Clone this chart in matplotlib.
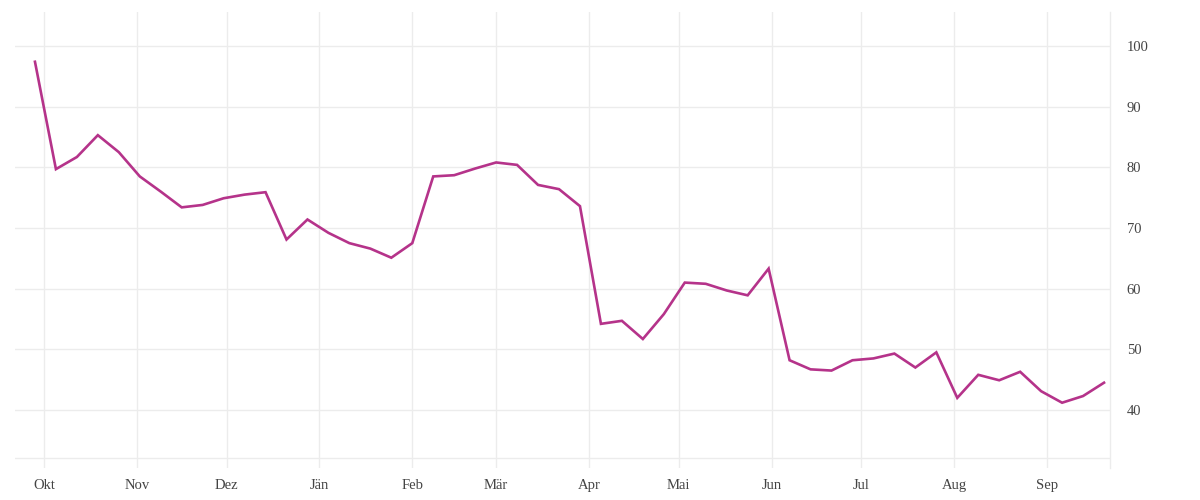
import numpy as np
import pandas as pd
import matplotlib
matplotlib.use("Agg")
import matplotlib.pyplot as plt

# weekly values
start_week = "2020-09-28"
values = [97.4, 79.7, 81.7, 85.3, 82.5, 78.5, 76.0, 73.4, 73.8, 74.9,
          75.5, 75.9, 68.1, 71.4, 69.2, 67.5, 66.6, 65.1, 67.5, 78.5,
          78.7, 79.8, 80.8, 80.4, 77.1, 76.4, 73.6, 54.2, 54.7, 51.7,
          55.8, 61.0, 60.8, 59.7, 58.9, 63.3, 48.2, 46.7, 46.5, 48.2,
          48.5, 49.3, 47.0, 49.5, 42.0, 45.8, 44.9, 46.3, 43.1, 41.2,
          42.3, 44.5]
month_starts = pd.date_range("2020-10-01", "2021-09-01", freq="MS")
month_labels = ["Okt", "Nov", "Dez", "Jän", "Feb", "Mär", "Apr", "Mai",
                "Jun", "Jul", "Aug", "Sep"]
y_ticks = [40, 50, 60, 70, 80, 90, 100]

weeks = pd.date_range(start_week, periods=len(values), freq="7D")

plt.rcParams['font.family'] = ['Liberation Serif', 'DejaVu Serif']
grid_col = "#ececec"
text_col = "#444444"

fig = plt.figure(figsize=(12, 5), dpi=100)
ax = fig.add_axes([15/1200, 32/500, 1095/1200, 456/500])

ax.plot(weeks, values, color="#b5338a", lw=1.9, solid_joinstyle="miter", zorder=3)

ax.set_xlim(pd.Timestamp("2020-09-21 08:00"), pd.Timestamp("2021-09-22"))
ax.set_ylim(30.44, 105.6)

ax.set_xticks(month_starts)
ax.set_xticklabels(month_labels)
ax.set_yticks(y_ticks)
ax.set_yticklabels([str(v) for v in y_ticks])
ax.yaxis.tick_right()
ax.tick_params(axis="both", length=0, labelsize=10.5, labelcolor=text_col)
ax.tick_params(axis="x", pad=8)
ax.tick_params(axis="y", pad=12)

ax.grid(True, color=grid_col, lw=1)
ax.axhline(32.1, color=grid_col, lw=1, zorder=1)
for s in ["top", "left", "bottom"]:
    ax.spines[s].set_visible(False)
ax.spines["right"].set_color(grid_col)
ax.spines["right"].set_linewidth(1)

fig.savefig("out.png", dpi=100)
